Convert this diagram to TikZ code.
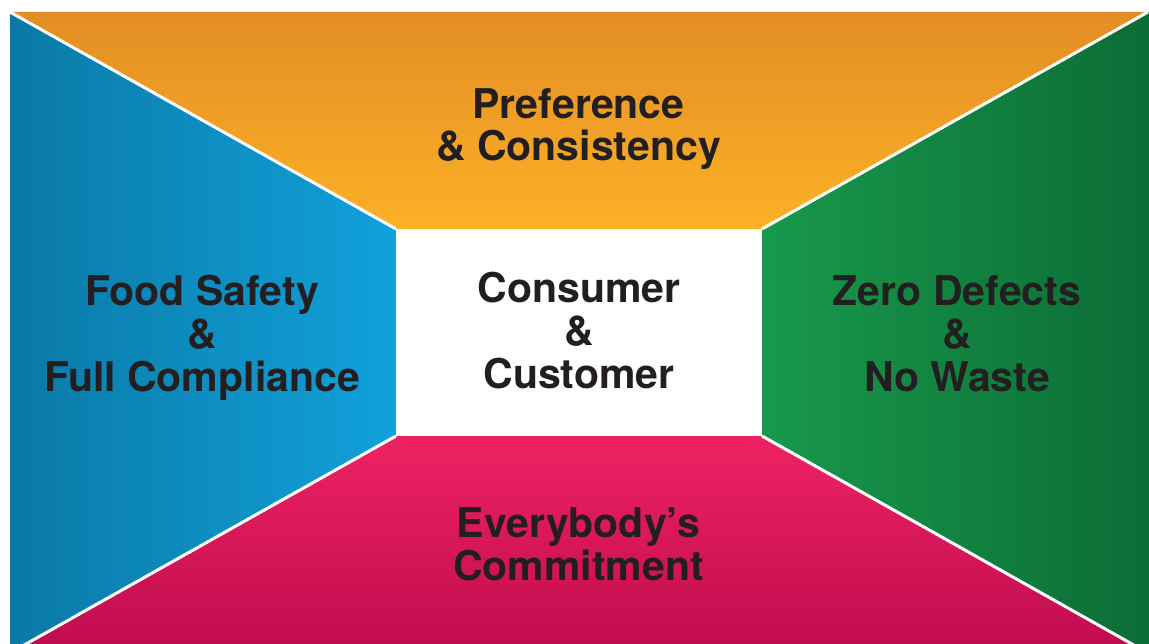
\documentclass[tikz,border=0pt]{standalone}
\usepackage{fontspec}
\setmainfont{TeX Gyre Heros}
\definecolor{orT}{HTML}{E38D24}
\definecolor{orB}{HTML}{FCB126}
\definecolor{blL}{HTML}{0A79A6}
\definecolor{blR}{HTML}{11A1DA}
\definecolor{grL}{HTML}{18994B}
\definecolor{grR}{HTML}{0C6C36}
\definecolor{pkT}{HTML}{EE2263}
\definecolor{pkB}{HTML}{BF0C4E}
\definecolor{txt}{HTML}{231F20}
\tikzset{
  lbl/.style={text=txt, font=\bfseries\fontsize{41}{42.8}\selectfont, align=center, inner sep=0pt},
  sep/.style={white, line width=3pt}
}
\begin{document}
\begin{tikzpicture}[x=1pt,y=-1pt]
\useasboundingbox (0,0) rectangle (1149,644);
\clip (0,0) rectangle (1149,644);
\coordinate (TL) at (10,12);
\coordinate (TR) at (1148,12);
\coordinate (BR) at (1148,653);
\coordinate (BL) at (10,653);
\coordinate (ITL) at (396,229);
\coordinate (ITR) at (762,229);
\coordinate (IBR) at (762,436);
\coordinate (IBL) at (396,436);
\shade[top color=orT, bottom color=orB] (TL) -- (TR) -- (ITR) -- (ITL) -- cycle;
\shade[left color=blL, right color=blR] (TL) -- (ITL) -- (IBL) -- (BL) -- cycle;
\shade[left color=grL, right color=grR] (TR) -- (1150,12) -- (1150,653) -- (BR) -- (IBR) -- (ITR) -- cycle;
\shade[top color=pkT, bottom color=pkB] (IBL) -- (IBR) -- (BR) -- (BL) -- cycle;
\fill[white] (ITL) rectangle (IBR);
\draw[sep] (TL) -- (ITL);
\draw[sep] (TR) -- (ITR);
\draw[sep] (BL) -- (IBL);
\draw[sep] (BR) -- (IBR);
\node[lbl] (top) at (578.5,129) {Preference\\\& Consistency};
\node[lbl] (left) at (202,337.5) {Food Safety\\\&\\Full Compliance};
\node[lbl] (center) at (579,330.5) {Consumer\\\&\\Customer};
\node[lbl] (right) at (957,334) {Zero Defects\\\&\\No Waste};
\node[lbl] (bottom) at (578.5,544.5) {Everybody’s\\Commitment};
\end{tikzpicture}
\end{document}
